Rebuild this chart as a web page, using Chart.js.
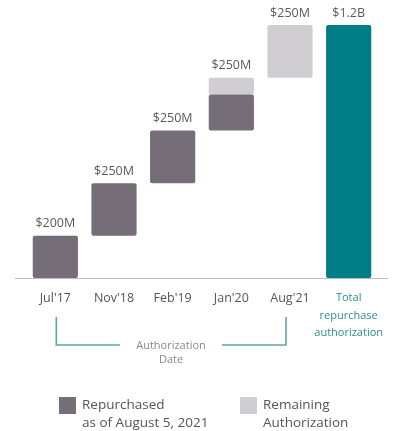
<!DOCTYPE html>
<html>
<head>
<meta charset="utf-8">
<script src="https://cdn.jsdelivr.net/npm/chart.js@4/dist/chart.umd.min.js"></script>
<style>
  html, body { margin: 0; padding: 0; background: #fff; }
  #wrap { width: 396px; height: 431px; position: relative; }
</style>
</head>
<body>
<div id="wrap"><canvas id="buyback"></canvas></div>
<script>
// authorization dates and amounts ($M)
const categories = ["Jul'17", "Nov'18", "Feb'19", "Jan'20", "Aug'21", "Total"];
const authorized = [200, 250, 250, 250, 250];
const repurchased = [200, 250, 250, 170, 0];
const remaining = [0, 0, 0, 80, 250];
const totalAuth = 1200;
const valueLabels = ['$200M', '$250M', '$250M', '$250M', '$250M', '$1.2B'];
const totalLabelLines = ['Total', 'repurchase', 'authorization'];

const DARK = '#756d78';
const LIGHT = '#d0ced3';
const TEAL = '#007d86';

// floating ranges for the waterfall
let base = 0;
const repRanges = [], remRanges = [];
authorized.forEach((amt, i) => {
    repRanges.push(repurchased[i] ? [base, base + repurchased[i]] : null);
    remRanges.push(remaining[i] ? [base + repurchased[i], base + repurchased[i] + remaining[i]] : null);
    base += amt;
});
repRanges.push(null);
remRanges.push(null);
const totalRange = [null, null, null, null, null, [0, totalAuth]];

const extras = {
    id: 'extras',
    afterDraw(chart) {
        const { ctx, chartArea, scales: { x, y } } = chart;
        ctx.save();

        // baseline
        ctx.strokeStyle = '#bdbdbd';
        ctx.lineWidth = 1;
        ctx.beginPath();
        ctx.moveTo(15, chartArea.bottom + 0.5);
        ctx.lineTo(388, chartArea.bottom + 0.5);
        ctx.stroke();

        // value labels above bars
        ctx.font = '12.5px "Open Sans"';
        ctx.fillStyle = '#5a5a5a';
        ctx.textAlign = 'center';
        ctx.textBaseline = 'middle';
        let top = 0;
        categories.forEach((c, i) => {
            const t = i < 5 ? (top += authorized[i]) : totalAuth;
            ctx.fillText(valueLabels[i], x.getPixelForValue(i), y.getPixelForValue(t) - 12);
        });

        // category labels
        const ly = chartArea.bottom + 20;
        categories.forEach((c, i) => {
            if (i < 5) {
                ctx.font = '12.5px "Open Sans"';
                ctx.fillStyle = '#555';
                ctx.fillText(c, x.getPixelForValue(i), ly);
            } else {
                ctx.font = '11px "Open Sans"';
                ctx.fillStyle = '#2a8f95';
                totalLabelLines.forEach((l, k) => ctx.fillText(l, x.getPixelForValue(i), ly + k * 17.5));
            }
        });

        // bracket "Authorization Date"
        const bx1 = x.getPixelForValue(0) + 1, bx2 = x.getPixelForValue(4) - 4;
        const byTop = chartArea.bottom + 39, byBot = chartArea.bottom + 67;
        ctx.strokeStyle = '#5fa9a5';
        ctx.lineWidth = 1.6;
        ctx.beginPath();
        ctx.moveTo(bx1, byTop); ctx.lineTo(bx1, byBot); ctx.lineTo(120, byBot);
        ctx.moveTo(222, byBot); ctx.lineTo(bx2, byBot); ctx.lineTo(bx2, byTop);
        ctx.stroke();
        ctx.fillStyle = '#8a8a8a';
        ctx.font = '11px "Open Sans"';
        ctx.fillText('Authorization', 171, byBot + 1);
        ctx.fillText('Date', 171, byBot + 15);

        // legend
        ctx.textAlign = 'left';
        ctx.font = '13.5px "Open Sans"';
        ctx.fillStyle = DARK;
        ctx.fillRect(59, 397, 17, 17);
        ctx.fillStyle = LIGHT;
        ctx.fillRect(240, 397, 17, 17);
        ctx.fillStyle = '#555';
        ctx.fillText('Repurchased', 82, 405);
        ctx.fillText('as of August 5, 2021', 82, 423);
        ctx.fillText('Remaining', 263, 405);
        ctx.fillText('Authorization', 263, 423);
        ctx.restore();
    }
};

new Chart(document.getElementById('buyback'), {
    type: 'bar',
    data: {
        labels: categories,
        datasets: [
            { label: 'Repurchased as of August 5, 2021', data: repRanges, backgroundColor: DARK },
            { label: 'Remaining Authorization', data: remRanges, backgroundColor: LIGHT },
            { label: 'Total repurchase authorization', data: totalRange, backgroundColor: TEAL }
        ]
    },
    options: {
        responsive: true,
        maintainAspectRatio: false,
        animation: false,
        events: [],
        layout: { padding: { top: 25, bottom: 153, left: 26, right: 18 } },
        datasets: {
            bar: { grouped: false, categoryPercentage: 1, barPercentage: 0.77, borderRadius: 2, borderSkipped: false }
        },
        plugins: { legend: { display: false }, tooltip: { enabled: false } },
        scales: {
            x: { display: false },
            y: { display: false, min: 0, max: totalAuth }
        }
    },
    plugins: [extras]
});
</script>
</body>
</html>
